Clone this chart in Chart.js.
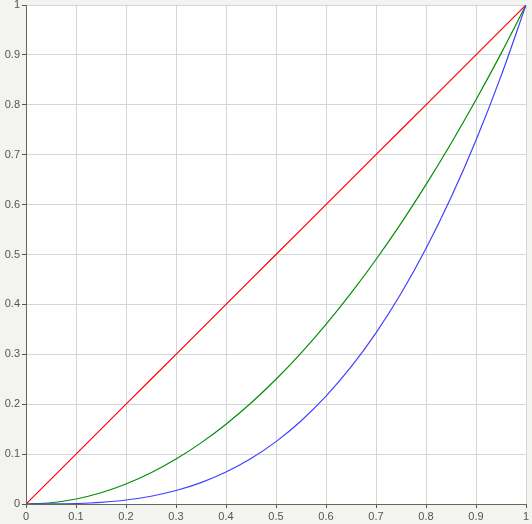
<!DOCTYPE html>
<html>
<head>
<meta charset="utf-8">
<script src="https://cdn.jsdelivr.net/npm/chart.js@4/dist/chart.umd.min.js"></script>
<style>
html,body{margin:0;padding:0;background:#f3f3ef;}
#wrap{width:532px;height:524px;position:relative;}
</style>
</head>
<body>
<div id="wrap"><canvas id="c" width="532" height="524"></canvas></div>
<script>
const xValues = [0,0.05,0.1,0.15,0.2,0.25,0.3,0.35,0.4,0.45,0.5,0.55,0.6,0.65,0.7,0.75,0.8,0.85,0.9,0.95,1];
const redValues = [0,0.05,0.1,0.15,0.2,0.25,0.3,0.35,0.4,0.45,0.5,0.55,0.6,0.65,0.7,0.75,0.8,0.85,0.9,0.95,1];
const greenValues = [0,0.0025,0.01,0.0225,0.04,0.0625,0.09,0.1225,0.16,0.2025,0.25,0.3025,0.36,0.4225,0.49,0.5625,0.64,0.7225,0.81,0.9025,1];
const blueValues = [0,0.0001,0.001,0.0034,0.008,0.0156,0.027,0.0429,0.064,0.0911,0.125,0.1664,0.216,0.2746,0.343,0.4219,0.512,0.6141,0.729,0.8574,1];

const toPts = ys => xValues.map((x,i)=>({x:x,y:ys[i]}));

const bgPlugin = {
  id:'bg',
  beforeDraw(chart){
    const {ctx, chartArea:a} = chart;
    ctx.save();
    ctx.fillStyle = '#f3f3ef';
    ctx.fillRect(0,0,chart.width,chart.height);
    ctx.fillStyle = '#ffffff';
    ctx.fillRect(a.left,a.top,a.right-a.left,a.bottom-a.top);
    ctx.restore();
  }
};

const fmt = v => String(Number(Number(v).toFixed(1)));
const font = {family:'Liberation Sans', size:11};
new Chart(document.getElementById('c'), {
  type:'line',
  data:{datasets:[
    {label:'red', data:toPts(redValues), borderColor:'rgb(255,0,0)', borderWidth:1.2, pointRadius:0, tension:0, order:3},
    {label:'green', data:toPts(greenValues), borderColor:'rgb(0,144,0)', borderWidth:1.2, pointRadius:0, cubicInterpolationMode:'monotone', order:2},
    {label:'blue', data:toPts(blueValues), borderColor:'rgb(64,64,255)', borderWidth:1.2, pointRadius:0, cubicInterpolationMode:'monotone', order:1}
  ]},
  options:{
    responsive:false, animation:false,
    layout:{padding:{top:5,right:6,left:0,bottom:0}},
    plugins:{legend:{display:false}, tooltip:{enabled:false}},
    scales:{
      x:{type:'linear', min:0, max:1,
        ticks:{stepSize:0.1, color:'#555', font:font, padding:2, maxRotation:0, callback:fmt},
        grid:{color:'#d6d6d6', tickColor:'#555', tickLength:4},
        border:{color:'#666'},
        afterFit(s){ s.height = 20; s.paddingRight = 0; s.paddingLeft = 0; }
      },
      y:{type:'linear', min:0, max:1,
        ticks:{stepSize:0.1, color:'#555', font:font, padding:2, callback:fmt},
        grid:{color:'#d6d6d6', tickColor:'#555', tickLength:4},
        border:{color:'#666'},
        afterFit(s){ s.width = 26; s.paddingTop = 0; s.paddingBottom = 0; }
      }
    }
  },
  plugins:[bgPlugin]
});
</script>
</body>
</html>
